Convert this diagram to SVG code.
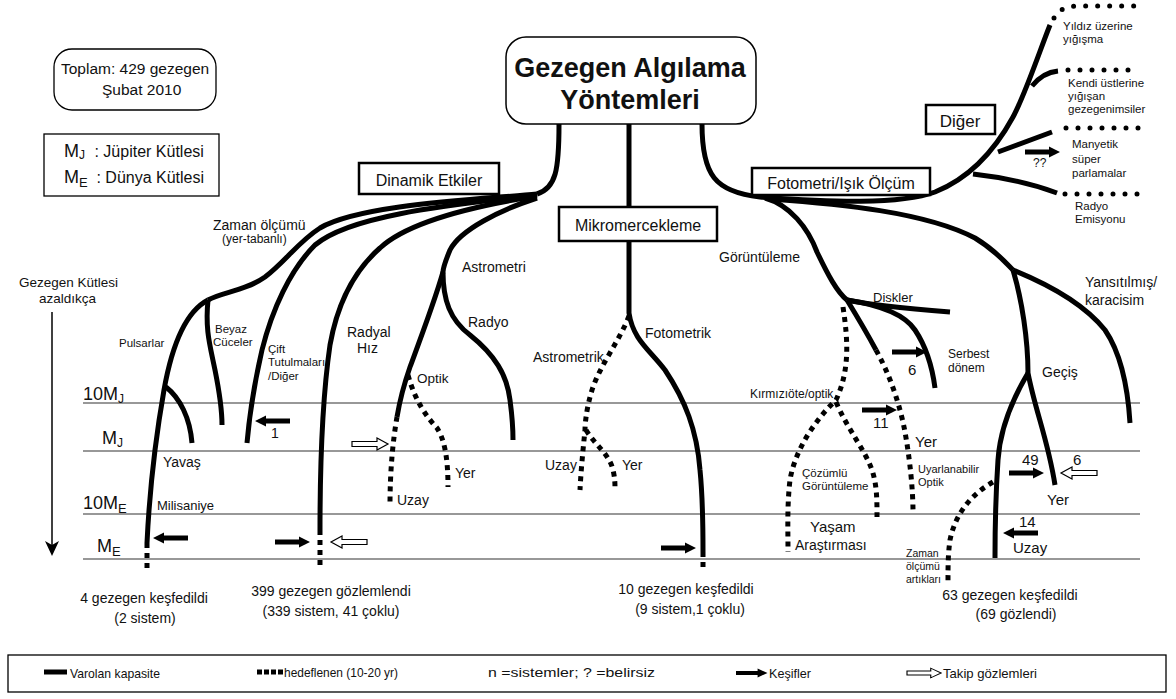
<svg xmlns="http://www.w3.org/2000/svg" xmlns:xlink="http://www.w3.org/1999/xlink" width="1176" height="699" viewBox="0 0 1176 699">
<style>
text{font-family:"Liberation Sans",Arial,sans-serif;fill:#111}
.solid{fill:none;stroke:#000;stroke-width:5;stroke-linecap:butt}
.dot{fill:none;stroke:#000;stroke-width:5;stroke-dasharray:5 5}
.rdot{fill:none;stroke:#000;stroke-width:5;stroke-dasharray:0 12;stroke-linecap:round}
.box{fill:#fff;stroke:#000;stroke-width:2.5}
.grid{stroke:#333;stroke-width:1.2}
.s11{font-size:11.5px}.s12{font-size:12px}.s13{font-size:13px}.s14{font-size:14px}.s15{font-size:15px}
</style>
<defs>
<path id="ba" d="M0,-2.5H24V-5.5L35,0L24,5.5V2.5H0Z" fill="#000"/>
<path id="ha" d="M0,-2.5H25V-6L36,0L25,6V2.5H0Z" fill="#fff" stroke="#000" stroke-width="1.2"/>
</defs>
<rect width="1176" height="699" fill="#fff"/>

<g id="mass-scale">
<line class="grid" x1="83" y1="403" x2="1140" y2="403"/>
<line class="grid" x1="83" y1="451" x2="1140" y2="451"/>
<line class="grid" x1="83" y1="514" x2="1140" y2="514"/>
<line class="grid" x1="83" y1="559" x2="1140" y2="559"/>
<text x="83" y="400" font-size="18">10M<tspan font-size="12" dy="3">J</tspan></text>
<text x="102" y="444" font-size="18">M<tspan font-size="12" dy="3">J</tspan></text>
<text x="83" y="509" font-size="18">10M<tspan font-size="13" dy="4">E</tspan></text>
<text x="97" y="552" font-size="18">M<tspan font-size="13" dy="4">E</tspan></text>
<line x1="52" y1="312" x2="52" y2="545" stroke="#000" stroke-width="1.5"/>
<path d="M45,541L52,556L59,541L52,545Z" fill="#000"/>
<text x="19" y="287" font-size="13.5">Gezegen Kütlesi</text>
<text x="39" y="303" font-size="13.5">azaldıkça</text>
</g>

<g id="info-total">
<rect x="54" y="49" width="162" height="61" rx="18" fill="#fff" stroke="#000" stroke-width="1.3"/>
<text x="61" y="74" font-size="15.5">Toplam: 429 gezegen</text>
<text x="102" y="95" font-size="15.5">Şubat 2010</text>
</g>

<g id="info-mass">
<rect x="44" y="134" width="175" height="62" fill="#fff" stroke="#000" stroke-width="1.3"/>
<text x="64" y="157" font-size="18">M<tspan font-size="12" dy="2">J</tspan><tspan font-size="16" dy="-2" x="90"> : Jüpiter Kütlesi</tspan></text>
<text x="64" y="183" font-size="18">M<tspan font-size="13" dy="4">E</tspan><tspan font-size="16" dy="-4" x="92"> : Dünya Kütlesi</tspan></text>
</g>

<g id="connectors">
<path class="solid" d="M559,124C559,170 556,188 537,194"/>
<path class="solid" d="M537,194C470,200 360,205 320,228C298,242 285,262 265,277C245,291 222,292 208,300"/>
<path class="solid" d="M208,300C185,312 172,345 164,390C157,430 150,480 147,543"/>
<path class="dot" d="M147,543V570"/>
<path class="solid" d="M166,387C180,398 190,418 192,443"/>
<path class="solid" d="M208,300C205,330 210,345 215,370C220,395 222,410 222,425"/>
<path class="solid" d="M537,195C450,205 350,215 315,245C290,270 272,310 262,350C254,385 249,420 247,443"/>
<path class="solid" d="M537,196C480,205 410,220 380,248C355,270 338,300 330,345C322,400 320,470 320,530"/>
<path class="dot" d="M320,530V566"/>
<path class="solid" d="M537,198C500,210 460,230 450,250C445,262 443,268 443,272"/>
<path class="solid" d="M443,272C435,300 420,340 410,367C402,390 399,405 397,417"/>
<path class="dot" d="M397,417C393,440 390,470 390,505"/>
<path class="solid" d="M443,272C443,300 450,320 470,335C495,355 507,375 510,400C512,415 513,430 513,440"/>
<path class="dot" d="M408,375C415,400 425,415 437,428C445,440 448,460 448,487"/>
<path class="solid" d="M629,124V207"/>
<path class="solid" d="M629,241V313C633,340 650,350 665,370C685,400 697,430 700,470C703,500 703,530 703,552"/>
<path class="dot" d="M703,552V570"/>
<path class="dot" d="M629,316C620,340 600,365 592,390C586,410 585,425 585,430C583,450 581,470 580,490"/>
<path class="dot" d="M586,430C595,445 610,455 613,470C615,478 615,484 615,490"/>
<path class="solid" d="M702,124C702,175 715,192 760,197C830,202 900,205 935,192C970,178 995,150 1013,117C1025,95 1040,50 1050,25"/>
<path class="rdot" d="M1054,18C1058,10 1065,7 1075,6H1140"/>
<path class="solid" d="M1032,86C1040,76 1048,72 1058,71"/>
<path class="rdot" d="M1068,70H1140"/>
<path class="solid" d="M998,152L1052,132"/>
<path class="rdot" d="M1066,128H1140"/>
<path class="solid" d="M973,174C1000,177 1030,183 1057,193"/>
<path class="rdot" d="M1065,194H1140"/>
<path class="solid" d="M765,198C790,205 808,228 817,252C828,275 837,292 847,300"/>
<path class="solid" d="M847,300C870,305 900,308 950,312"/>
<path class="solid" d="M847,300C880,305 905,315 915,330C925,345 932,365 935,388"/>
<path class="solid" d="M847,300C858,318 868,335 876,350"/>
<path class="dot" d="M876,350C890,375 900,405 905,432C910,460 913,490 913,512"/>
<path class="dot" d="M843,307C848,340 850,370 836,400C815,420 795,450 790,480C787,505 788,530 788,552"/>
<path class="dot" d="M836,402C848,430 865,450 872,470C877,485 877,500 877,517"/>
<path class="solid" d="M770,199C840,204 925,212 975,238C995,250 1005,262 1013,270"/>
<path class="solid" d="M1013,270C1050,285 1085,305 1105,330C1122,355 1128,390 1130,423"/>
<path class="solid" d="M1013,270C1022,300 1028,340 1028,373C1035,410 1048,440 1055,485"/>
<path class="solid" d="M1028,373C1012,400 1000,430 998,460C996,490 995,530 995,558"/>
<path class="dot" d="M993,482C970,495 955,515 950,540C948,555 948,565 948,582"/>
<use href="#ba" transform="translate(290,421) scale(-1,1)"/>
<use href="#ha" transform="translate(352,444)"/>
<use href="#ba" transform="translate(188,538) scale(-1,1)"/>
<use href="#ba" transform="translate(275,542)"/>
<use href="#ha" transform="translate(367,542) scale(-1,1)"/>
<use href="#ba" transform="translate(661,548)"/>
<use href="#ba" transform="translate(892,352)"/>
<use href="#ba" transform="translate(862,410)"/>
<use href="#ba" transform="translate(1009,473)"/>
<use href="#ha" transform="translate(1097,473) scale(-1,1)"/>
<use href="#ba" transform="translate(1038,533) scale(-1,1)"/>
<use href="#ba" transform="translate(1025,152)"/>
</g>

<g id="node-root">
<rect x="506" y="37" width="250" height="87" rx="20" fill="#fff" stroke="#000" stroke-width="1.5"/>
<text x="630" y="77" font-size="27" font-weight="bold" text-anchor="middle">Gezegen Algılama</text>
<text x="630" y="109" font-size="27" font-weight="bold" text-anchor="middle">Yöntemleri</text>
</g>
<g id="node-dinamik">
<rect class="box" x="359" y="163" width="140" height="31"/>
<text x="429" y="186" font-size="16" text-anchor="middle">Dinamik Etkiler</text>
</g>
<g id="node-mikro">
<rect class="box" x="559" y="207" width="158" height="34"/>
<text x="638" y="231" font-size="16" text-anchor="middle">Mikromercekleme</text>
</g>
<g id="node-fotometri">
<rect class="box" x="752" y="168" width="178" height="27"/>
<text x="841" y="189" font-size="16" text-anchor="middle">Fotometri/Işık Ölçüm</text>
</g>
<g id="node-diger">
<rect class="box" x="926" y="105" width="69" height="29"/>
<text x="960" y="127" font-size="17" text-anchor="middle">Diğer</text>
</g>

<g id="labels-dinamik">
<text x="213" y="230" font-size="14">Zaman ölçümü</text>
<text x="222" y="243" class="s12">(yer-tabanlı)</text>
<text x="119" y="347" class="s11">Pulsarlar</text>
<text x="215" y="333" class="s11">Beyaz</text>
<text x="213" y="346" class="s11">Cüceler</text>
<text x="268" y="353" class="s11">Çift</text>
<text x="268" y="366" class="s11">Tutulmaları</text>
<text x="268" y="380" class="s11">/Diğer</text>
<text x="347" y="337" class="s14">Radyal</text>
<text x="357" y="353" class="s14">Hız</text>
<text x="271" y="438" class="s14">1</text>
<text x="163" y="467" class="s14">Yavaş</text>
<text x="157" y="510" class="s13">Milisaniye</text>
<text x="462" y="272" class="s14">Astrometri</text>
<text x="468" y="327" class="s14">Radyo</text>
<text x="417" y="383" font-size="13.5">Optik</text>
<text x="397" y="505" class="s14">Uzay</text>
<text x="455" y="478" class="s14">Yer</text>
</g>
<g id="labels-mikro">
<text x="533" y="362" class="s14">Astrometrik</text>
<text x="645" y="338" class="s14">Fotometrik</text>
<text x="545" y="470" class="s14">Uzay</text>
<text x="622" y="470" class="s14">Yer</text>
</g>
<g id="labels-fotometri">
<text x="719" y="262" class="s14">Görüntüleme</text>
<text x="873" y="302" class="s13">Diskler</text>
<text x="948" y="358" class="s12">Serbest</text>
<text x="948" y="372" class="s12">dönem</text>
<text x="908" y="375" class="s15">6</text>
<text x="750" y="398" class="s12">Kırmızıöte/optik</text>
<text x="873" y="428" class="s15">11</text>
<text x="915" y="447" class="s15">Yer</text>
<text x="918" y="473" font-size="11">Uyarlanabilir</text>
<text x="918" y="486" font-size="11">Optik</text>
<text x="802" y="477" class="s11">Çözümlü</text>
<text x="802" y="490" class="s11">Görüntüleme</text>
<text x="810" y="532" class="s15">Yaşam</text>
<text x="795" y="550" class="s14">Araştırması</text>
<text x="1042" y="377" class="s14">Geçiş</text>
<text x="1085" y="287" class="s14">Yansıtılmış/</text>
<text x="1085" y="305" class="s14">karacisim</text>
<text x="1022" y="465" class="s15">49</text>
<text x="1073" y="465" class="s15">6</text>
<text x="1047" y="505" class="s15">Yer</text>
<text x="1019" y="527" class="s15">14</text>
<text x="1013" y="553" class="s15">Uzay</text>
<text x="906" y="557" font-size="10.5">Zaman</text>
<text x="906" y="570" font-size="10.5">ölçümü</text>
<text x="906" y="583" font-size="10.5">artıkları</text>
</g>
<g id="labels-diger">
<text x="1063" y="30" class="s11">Yıldız üzerine</text>
<text x="1063" y="43" class="s11">yığışma</text>
<text x="1068" y="87" class="s11">Kendi üstlerine</text>
<text x="1068" y="100" class="s11">yığışan</text>
<text x="1068" y="113" class="s11">gezegenimsiler</text>
<text x="1072" y="148" class="s11">Manyetik</text>
<text x="1072" y="163" class="s11">süper</text>
<text x="1072" y="177" class="s11">parlamalar</text>
<text x="1075" y="210" class="s11">Radyo</text>
<text x="1075" y="223" class="s11">Emisyonu</text>
<text x="1033" y="167" class="s12">??</text>
</g>

<g id="summaries">
<text x="144" y="603" class="s14" text-anchor="middle">4 gezegen keşfedildi</text>
<text x="145" y="623" class="s14" text-anchor="middle">(2 sistem)</text>
<text x="331" y="596" class="s14" text-anchor="middle">399 gezegen gözlemlendi</text>
<text x="331" y="616" class="s14" text-anchor="middle">(339 sistem, 41 çoklu)</text>
<text x="686" y="594" class="s14" text-anchor="middle">10 gezegen keşfedildi</text>
<text x="690" y="614" class="s14" text-anchor="middle">(9 sistem,1 çoklu)</text>
<text x="1010" y="600" class="s14" text-anchor="middle">63 gezegen keşfedildi</text>
<text x="1016" y="619" class="s14" text-anchor="middle">(69 gözlendi)</text>
</g>

<g id="legend">
<rect x="8" y="655" width="1158" height="37" fill="#fff" stroke="#000" stroke-width="1.3"/>
<line x1="44" y1="672" x2="67" y2="672" stroke="#000" stroke-width="5"/>
<text x="70" y="678" class="s13" textLength="90" lengthAdjust="spacingAndGlyphs">Varolan kapasite</text>
<line x1="257" y1="672" x2="283" y2="672" stroke="#000" stroke-width="5" stroke-dasharray="5 2"/>
<text x="284" y="677" class="s13" textLength="114" lengthAdjust="spacingAndGlyphs">hedeflenen (10-20 yr)</text>
<text x="488" y="677" class="s13" textLength="167" lengthAdjust="spacingAndGlyphs">n =sistemler; ? =belirsiz</text>
<use href="#ba" transform="translate(736,673) scale(0.9,0.8)"/>
<text x="769" y="678" class="s13" textLength="42" lengthAdjust="spacingAndGlyphs">Keşifler</text>
<use href="#ha" transform="translate(907,673) scale(0.95,0.8)"/>
<text x="943" y="678" class="s13" textLength="94" lengthAdjust="spacingAndGlyphs">Takip gözlemleri</text>
</g>
</svg>
